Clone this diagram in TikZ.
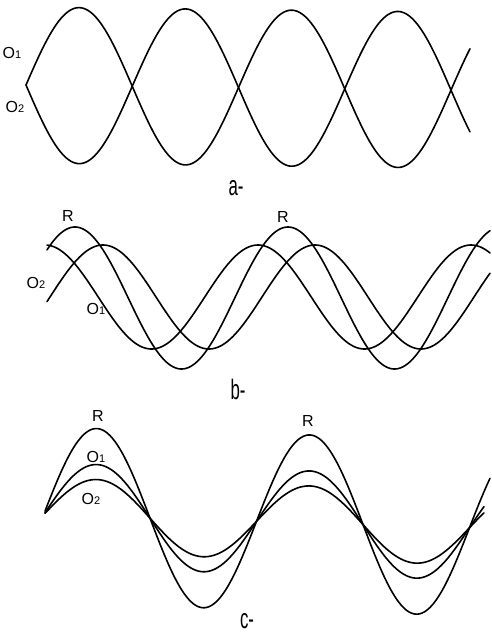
\documentclass[tikz,border=0pt]{standalone}
\usepackage{fontspec}
\setmainfont{Liberation Sans}
\usepackage{graphicx}
\newcommand{\dg}[1]{{\fontsize{11}{11}\selectfont #1}}
\begin{document}
\begin{tikzpicture}[x=1pt,y=-1pt,
  wave/.style={line width=1.6pt, line join=round, line cap=round, samples=260, variable=\x, smooth},
  lab/.style={inner sep=0pt, font=\fontsize{16}{16}\selectfont},
  panel/.style={inner sep=0pt, font=\fontsize{28}{28}\selectfont}]
\useasboundingbox (0,0) rectangle (491,635);
\fill[white] (0,0) rectangle (491,635);
% ---- panel a ----
\draw[wave, domain=26:470] plot (\x, {85+0.012*(\x-26) - 78*sin((\x-26)/106.25*180)});
\draw[wave, domain=26:470] plot (\x, {85+0.012*(\x-26) + 78*sin((\x-26)/106.25*180)});
\node[lab] (aO1) at (12,53) {O\dg{1}};
\node[lab] (aO2) at (15,107) {O\dg{2}};
\node[panel] (la) at (236,188) {\scalebox{0.6}[1]{a-}};
% ---- panel b ----
\draw[wave, domain=47:490] plot (\x, {298 - 71*cos((\x-75)/213*360)});
\draw[wave, domain=47:490] plot (\x, {297 - 52*cos((\x-45)/213*360)});
\draw[wave, domain=47:490] plot (\x, {297 - 52*cos((\x-103)/212*360)});
\node[lab] (bR1) at (68,216) {R};
\node[lab] (bR2) at (283,217) {R};
\node[lab] (bO2) at (36,283) {O\dg{2}};
\node[lab] (bO1) at (96,309) {O\dg{1}};
\node[panel] (lb) at (238,389) {\scalebox{0.6}[1]{b-}};
% ---- panel c ----
\draw[wave, domain=45:490] plot (\x, {515+0.03*(\x-45) - 88*sin((\x-43.5)/213*360)});
\draw[wave, domain=45:484] plot (\x, {515+0.03*(\x-45) - 52*sin((\x-43.5)/213*360)});
\draw[wave, domain=45:484] plot (\x, {515+0.03*(\x-45) - 37*sin((\x-43.5)/213*360)});
\node[lab] (cR1) at (98,416) {R};
\node[lab] (cO1) at (96,457) {O\dg{1}};
\node[lab] (cO2) at (91,499) {O\dg{2}};
\node[lab] (cR2) at (308,421) {R};
\node[panel] (lc) at (247,621) {\scalebox{0.6}[1]{c-}};
\end{tikzpicture}
\end{document}
